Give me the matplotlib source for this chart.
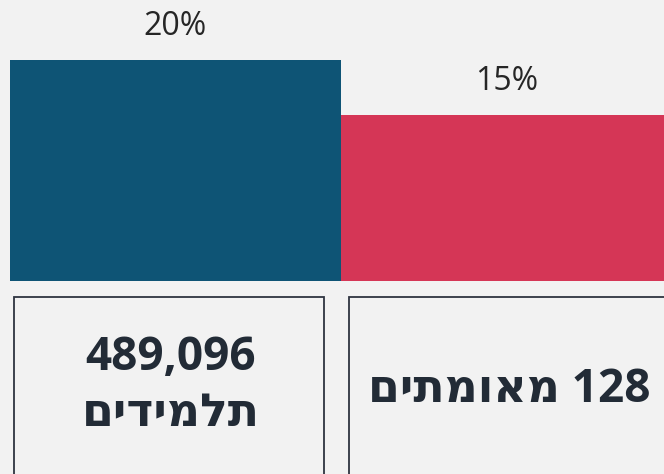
import matplotlib
matplotlib.use("Agg")
import matplotlib.pyplot as plt
from matplotlib.patches import Rectangle

# ---- data ----
categories = ["489,096 תלמידים", "128 מאומתים"]
values = [20, 15]
value_labels = ["20%", "15%"]
box_line1 = ["489,096", ""]
box_line2 = ["תלמידים", "128 מאומתים"]
colors = ["#0E5475", "#D53656"]

def visual(s):
    """Convert logical RTL Hebrew text to visual LTR order for matplotlib."""
    out = []
    for tok in s.split(" "):
        if any('\u0590' <= ch <= '\u05FF' for ch in tok):
            out.append(tok[::-1])
        else:
            out.append(tok)
    return " ".join(out[::-1])

BG = "#F2F2F2"
W, H = 664, 474
fig = plt.figure(figsize=(W / 100, H / 100), dpi=100, facecolor=BG)
ax = fig.add_axes([0, 0, 1, 1])
ax.set_facecolor(BG)
for s in ax.spines.values():
    s.set_visible(False)
ax.set_xticks([])
ax.set_yticks([])

# scales: bar width 331 px, left bar begins at 10 px; baseline at 281 px from top
px_per_x = 331.0
x0 = -0.5 - 10 / px_per_x
ax.set_xlim(x0, x0 + W / px_per_x)
px_per_y = 221.0 / 20
base_from_bottom = H - 281
ax.set_ylim(-base_from_bottom / px_per_y, (H - base_from_bottom) / px_per_y)

xs = list(range(len(values)))
bars = ax.bar(xs, values, width=1.0, color=colors, edgecolor="none")

fam_txt = ["Open Sans", "DejaVu Sans"]
for x, v, lab in zip(xs, values, value_labels):
    ax.annotate(lab, (x, v), xytext=(0, 24), textcoords="offset points",
                ha="center", va="center", fontsize=23, color="#262626",
                family=fam_txt)

# boxes beneath the bars
box_specs = [(14, 324), (349, 700)]
top_px = 297
for (l, r) in box_specs:
    rect = Rectangle((l / W, -0.1), (r - l) / W, 1 - top_px / H + 0.1,
                     transform=ax.transAxes, fill=False,
                     edgecolor="#2E3440", linewidth=1.3, clip_on=True)
    ax.add_patch(rect)

txt_color = "#222B36"
ax.text(171 / W, 1 - 357 / H, box_line1[0], transform=ax.transAxes,
        ha="center", va="center", fontsize=33, fontweight="bold",
        color=txt_color, family=fam_txt)
ax.text(171 / W, 1 - 414 / H, visual(box_line2[0]), transform=ax.transAxes,
        ha="center", va="center", fontsize=33, fontweight="bold",
        color=txt_color, family=fam_txt)
ax.text(509 / W, 1 - 389 / H, visual(box_line2[1]), transform=ax.transAxes,
        ha="center", va="center", fontsize=33, fontweight="bold",
        color=txt_color, family=fam_txt)

fig.savefig("out.png", dpi=100, facecolor=BG)
